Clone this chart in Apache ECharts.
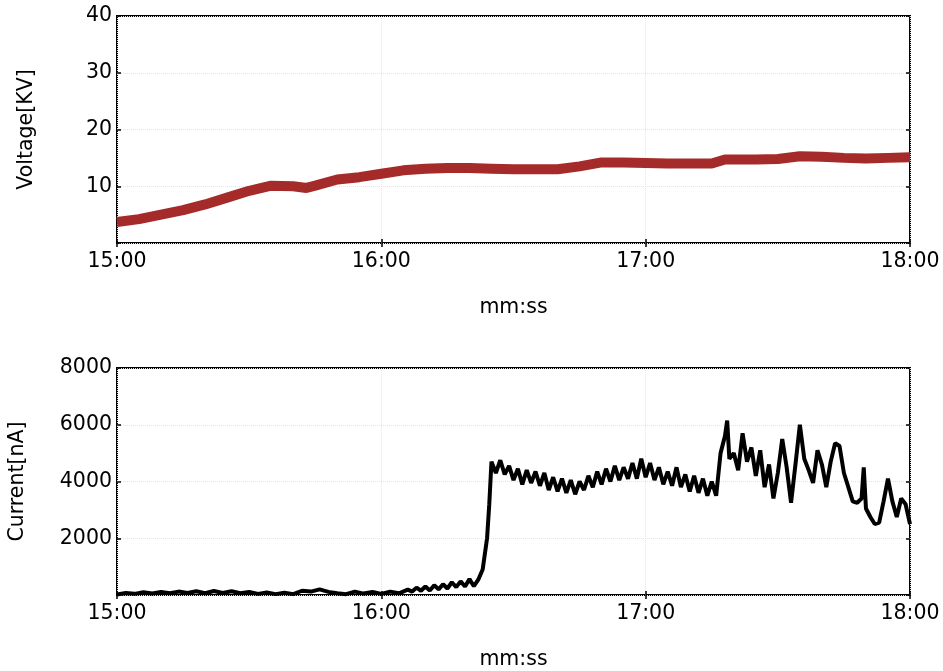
<!DOCTYPE html>
<html>
<head>
<meta charset="utf-8">
<script src="https://cdn.jsdelivr.net/npm/echarts@6/dist/echarts.min.js"></script>
<style>
  html, body { margin: 0; padding: 0; background: #fff; }
  #chart { width: 943px; height: 671px; }
</style>
</head>
<body>
<div id="chart"></div>
<script>
// time in seconds (15:00 = 900 s)
const voltTime = [900, 905, 910, 915, 920, 925, 930, 935, 940, 943, 945, 950, 955, 960, 965, 970, 975, 980, 985, 990,
  995, 1000, 1005, 1010, 1015, 1020, 1025, 1030, 1035, 1038, 1040, 1045, 1050, 1055, 1060, 1065, 1070, 1075, 1080];
const voltValue = [3.7, 4.2, 5.0, 5.8, 6.8, 8.0, 9.2, 10.1, 10.0, 9.7, 10.1, 11.2, 11.6, 12.2, 12.8, 13.1, 13.2, 13.2, 13.1, 13.0,
  13.0, 13.0, 13.5, 14.2, 14.2, 14.1, 14.0, 14.0, 14.0, 14.7, 14.7, 14.7, 14.8, 15.3, 15.2, 15.0, 14.9, 15.0, 15.1];

const currTime = [900, 902, 904, 906, 908, 910, 912, 914, 916, 918, 920, 922, 924, 926, 928, 930, 932, 934, 936, 938,
  940, 942, 944, 946, 948, 950, 952, 954, 956, 958, 960, 962, 964, 966,
  967, 968, 969, 970, 971, 972, 973, 974, 975, 976, 977, 978, 979, 980, 981, 982, 983, 984, 984.5,
  985, 986, 987, 988, 989, 990, 991, 992, 993, 994, 995, 996, 997, 998, 999, 1000,
  1001, 1002, 1003, 1004, 1005, 1006, 1007, 1008, 1009, 1010, 1011, 1012, 1013, 1014, 1015, 1016, 1017, 1018, 1019, 1020,
  1021, 1022, 1023, 1024, 1025, 1026, 1027, 1028, 1029, 1030, 1031, 1032, 1033, 1034, 1035, 1036, 1037, 1038, 1038.5, 1039,
  1040, 1041, 1042, 1043, 1044, 1045, 1046, 1047, 1048, 1049, 1050, 1051, 1052, 1053, 1054, 1055, 1056, 1057, 1058, 1059,
  1060, 1061, 1062, 1063, 1064, 1065, 1066, 1067, 1068, 1069, 1069.5, 1070, 1071, 1072, 1073, 1074, 1075, 1076, 1077, 1078,
  1079, 1080];
const currValue = [20, 70, 40, 100, 50, 110, 60, 120, 70, 130, 60, 140, 70, 130, 60, 110, 40, 90, 30, 80,
  30, 150, 120, 200, 110, 60, 30, 120, 50, 110, 40, 120, 60, 190,
  120, 260, 150, 300, 160, 340, 200, 380, 230, 450, 280, 480, 300, 560, 310, 540, 900, 2000, 3200,
  4700, 4300, 4750, 4250, 4550, 4050, 4450, 3900, 4400, 3950, 4350, 3850, 4300, 3700, 4150, 3650,
  4100, 3600, 4050, 3550, 4000, 3700, 4200, 3800, 4350, 3900, 4450, 4000, 4550, 4050, 4500, 4100, 4650, 4100, 4800, 4150,
  4650, 4050, 4500, 3900, 4350, 3850, 4500, 3800, 4250, 3650, 4200, 3600, 4100, 3500, 4000, 3500, 5000, 5600, 6150, 4800,
  5000, 4400, 5700, 4700, 5200, 4200, 5100, 3800, 4600, 3400, 4300, 5500, 4500, 3250, 4600, 6000, 4800, 4400, 3950, 5100,
  4600, 3800, 4700, 5350, 5250, 4300, 3800, 3300, 3250, 3400, 4500, 3050, 2750, 2500, 2550, 3300, 4100, 3300, 2750, 3400,
  3200, 2500];

function zip(xs, ys) {
  var out = [];
  for (var i = 0; i < xs.length; i++) out.push([xs[i], ys[i]]);
  return out;
}

function mmss(v) {
  var m = Math.floor(v / 60);
  var s = Math.round(v % 60);
  return m + ":" + (s < 10 ? "0" + s : s);
}

var font = "DejaVu Sans";
var fs = 20.5;
var splitLine = { show: true, lineStyle: { color: "#e4e4e4", type: "dotted", width: 1 } };
var tick = { show: true, inside: true, length: 4, lineStyle: { color: "#000", width: 1.5 } };

function xAxes(gridIndex) {
  return [
    {
      type: "value", gridIndex: gridIndex, min: 900, max: 1080, interval: 60,
      name: "mm:ss", nameLocation: "middle", nameGap: 54,
      nameTextStyle: { fontFamily: font, fontSize: fs, color: "#000" },
      axisLine: { show: false },
      axisTick: tick,
      axisLabel: { fontFamily: font, fontSize: fs, color: "#000", margin: 8, formatter: mmss },
      splitLine: splitLine,
    },
    {
      type: "value", gridIndex: gridIndex, position: "top", min: 900, max: 1080, interval: 60,
      axisLine: { show: false },
      axisTick: tick,
      axisLabel: { show: false },
      splitLine: { show: false },
    },
  ];
}

function yAxes(gridIndex, max, interval, name, nameGap) {
  return [
    {
      type: "value", gridIndex: gridIndex, min: 0, max: max, interval: interval,
      name: name, nameLocation: "middle", nameGap: nameGap,
      nameTextStyle: { fontFamily: font, fontSize: fs, color: "#000" },
      axisLine: { show: false },
      axisTick: tick,
      axisLabel: {
        fontFamily: font, fontSize: fs, color: "#000", margin: 5,
        formatter: function (v) { return v === 0 ? "" : v; },
      },
      splitLine: splitLine,
    },
    {
      type: "value", gridIndex: gridIndex, position: "right", min: 0, max: max, interval: interval,
      axisLine: { show: false },
      axisTick: tick,
      axisLabel: { show: false },
      splitLine: { show: false },
    },
  ];
}

var chart = echarts.init(document.getElementById("chart"));
var option = {
  animation: false,
  backgroundColor: "#fff",
  grid: [
    { left: 117, top: 16, width: 793, height: 227, outerBoundsMode: "none", containLabel: false,
      show: true, borderColor: "#000", borderWidth: 2, backgroundColor: "transparent" },
    { left: 117, top: 368, width: 793, height: 227, outerBoundsMode: "none", containLabel: false,
      show: true, borderColor: "#000", borderWidth: 2, backgroundColor: "transparent" },
  ],
  xAxis: xAxes(0).concat(xAxes(1)),
  yAxis: yAxes(0, 40, 10, "Voltage[KV]", 80).concat(yAxes(1, 8000, 2000, "Current[nA]", 89)),
  series: [
    {
      name: "Voltage",
      type: "line",
      xAxisIndex: 0,
      yAxisIndex: 0,
      data: zip(voltTime, voltValue),
      showSymbol: false,
      lineStyle: { color: "#a52a2a", width: 10 },
      itemStyle: { color: "#a52a2a" },
    },
    {
      name: "Current",
      type: "line",
      xAxisIndex: 2,
      yAxisIndex: 2,
      data: zip(currTime, currValue),
      showSymbol: false,
      lineStyle: { color: "#000", width: 4 },
      itemStyle: { color: "#000" },
    },
  ],
};
chart.setOption(option);
</script>
</body>
</html>
